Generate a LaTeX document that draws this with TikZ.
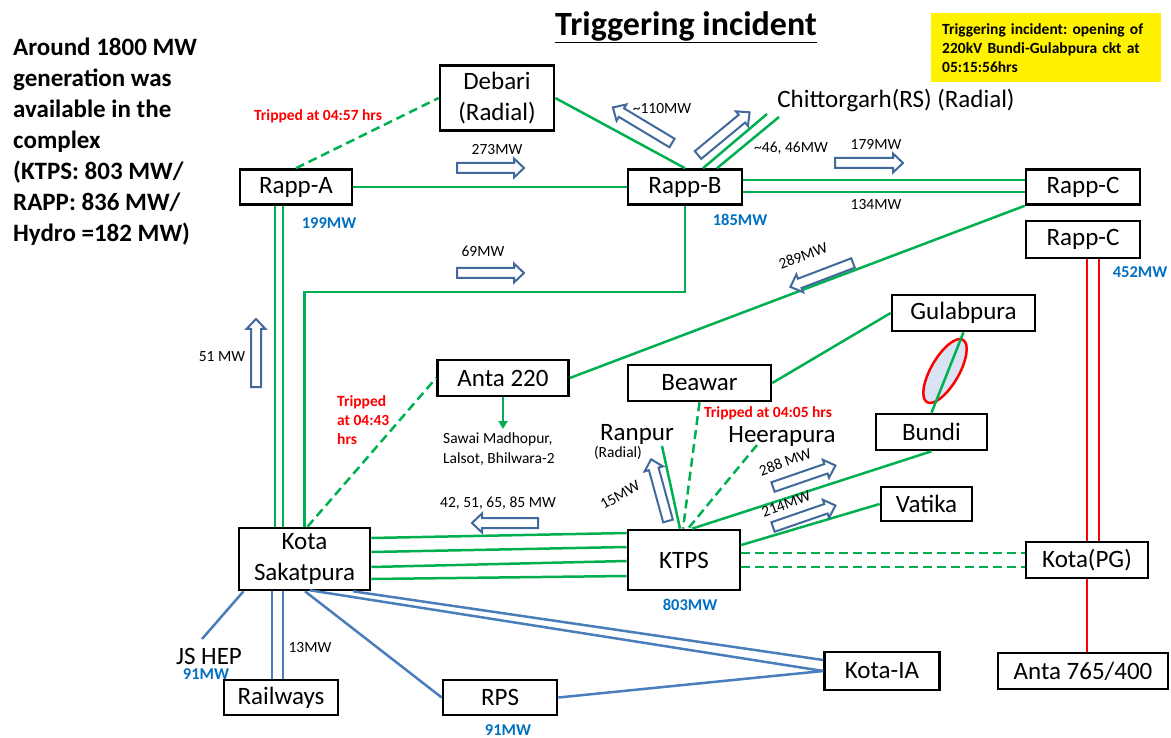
\documentclass[tikz,border=0pt]{standalone}
\usepackage{fontspec}
\setmainfont{Carlito}
\usetikzlibrary{calc,arrows.meta}
\definecolor{gl}{RGB}{0,176,80}
\definecolor{bl}{RGB}{74,126,187}
\definecolor{arrb}{RGB}{65,105,156}
\definecolor{lb}{RGB}{0,112,192}
\definecolor{ellfill}{RGB}{218,227,243}
\tikzset{
 box/.style={draw=black, line width=2.6pt, fill=white, inner sep=0pt, font=\fontsize{25}{31}\selectfont, align=center},
 gline/.style={draw=gl, line width=2.5pt},
 gdash/.style={draw=gl, line width=2.5pt, dash pattern=on 9pt off 5pt},
 rline/.style={draw=red, line width=2.5pt},
 bline/.style={draw=bl, line width=2.5pt},
 flowarr/.style={draw=arrb, fill=white, line width=2pt, line join=miter},
 lbl/.style={font=\fontsize{15.5}{20}\selectfont, inner sep=0pt},
 redlbl/.style={font=\fontsize{15.5}{19}\selectfont\bfseries, text=red, inner sep=0pt},
 mwlbl/.style={font=\fontsize{16.5}{20}\selectfont\bfseries, text=lb, inner sep=0pt},
 plain/.style={font=\fontsize{25}{30}\selectfont, inner sep=0pt},
}
\newcommand{\flowarrow}[4]{%
 \begin{scope}[shift={(#1,#2)}, rotate=#3]
 \draw[flowarr] (0,-5) -- (#4-10,-5) -- (#4-10,-9.5) -- (#4,0) -- (#4-10,9.5) -- (#4-10,5) -- (0,5) -- cycle;
 \end{scope}}
\begin{document}
\frenchspacing
\begin{tikzpicture}[x=1pt,y=-1pt]
\useasboundingbox (0,0) rectangle (1171,738);

% title and notes
\node[font=\fontsize{34}{40}\selectfont\bfseries, inner sep=0pt] (title) at (686,27) {\underline{Triggering incident}};
\node[anchor=north west, align=left, inner sep=0pt, font=\fontsize{25}{31}\selectfont\bfseries] (avail) at (13,38)
 {Around 1800 MW\\generation was\\available in the\\complex\\(KTPS: 803 MW/\\RAPP: 836 MW/\\Hydro =182 MW)};
\node[fill=yellow, anchor=north west, minimum width=230pt, minimum height=69pt, inner xsep=11pt, inner ysep=0pt,
 text width=208pt, align=left, font=\fontsize{15.5}{19}\selectfont\bfseries] (yb) at (931,13)
 {Triggering incident: opening of\\220kV Bundi-Gulabpura ckt at\\05:15:56hrs};

% boxes
\node[box, minimum width=114pt, minimum height=65pt] (debari) at (497,98) {Debari\\(Radial)};
\node[box, minimum width=112pt, minimum height=35pt] (rappA) at (296,187) {Rapp-A};
\node[box, minimum width=114pt, minimum height=35pt] (rappB) at (685,187) {Rapp-B};
\node[box, minimum width=114pt, minimum height=35pt] (rappC) at (1083,187) {Rapp-C};
\node[box, minimum width=114pt, minimum height=37pt] (rappC2) at (1083,239.5) {Rapp-C};
\node[box, minimum width=131pt, minimum height=36pt] (anta220) at (503,378) {Anta 220};
\node[box, minimum width=143pt, minimum height=36pt] (beawar) at (699.5,383) {Beawar};
\node[box, minimum width=143pt, minimum height=36pt] (gulab) at (963.5,313) {Gulabpura};
\node[box, minimum width=111pt, minimum height=36pt] (bundi) at (931.5,432) {Bundi};
\node[box, minimum width=91pt, minimum height=34pt] (vatika) at (926.5,504) {Vatika};
\node[box, minimum width=112pt, minimum height=60pt] (ktps) at (684,560) {KTPS};
\node[box, minimum width=122pt, minimum height=36pt] (kotaPG) at (1087,560) {Kota(PG)};
\node[box, minimum width=131pt, minimum height=62pt] (kotaS) at (304.5,559) {Kota\\Sakatpura};
\node[box, minimum width=114pt, minimum height=35pt] (railways) at (281,697.5) {Railways};
\node[box, minimum width=114pt, minimum height=35pt] (rps) at (500,697.5) {RPS};
\node[box, minimum width=115pt, minimum height=38pt] (kotaIA) at (882,671) {Kota-IA};
\node[box, minimum width=170pt, minimum height=36pt] (anta765) at (1083,671) {Anta 765/400};

% plain texts
\node[plain] (chitt) at (896,101) {Chittorgarh(RS) (Radial)};
\node[plain] (ranpur) at (637,434) {Ranpur};
\node[lbl] (ranpurrad) at (618,453) {(Radial)};
\node[plain] (heera) at (782,436) {Heerapura};
\node[plain] (jshep) at (209,656) {JS HEP};
\node[lbl, align=left, anchor=north west] (sawai) at (443,433) {Sawai Madhopur,\\Lalsot, Bhilwara-2};

% free ends and helper points
\coordinate (chittA) at (767,114);
\coordinate (chittB) at (779,117);
\coordinate (ranpurEnd) at (662,446);
\coordinate (heeraEnd) at (757,445);
\coordinate (jsEnd) at (202,639);
\coordinate (bend) at (0,292);
\coordinate (ra1) at ($(rappA.south)+(-21,0)$);
\coordinate (ra2) at ($(rappA.south)+(-13,0)$);
\coordinate (rw1) at ($(kotaS.south)+(-32.5,0)$);
\coordinate (rw2) at ($(kotaS.south)+(-21.5,0)$);
\coordinate (rc1) at ($(rappC2.south)+(4,0)$);
\coordinate (rc2) at ($(rappC2.south)+(16,0)$);
\coordinate (sawaiTip) at ($(anta220.south |- sawai.north)+(0,-4)$);

% green connectors
\draw[gline] (rappA.east) -- (rappB.west);
\draw[gline] (ra1) -- (ra1 |- kotaS.north);
\draw[gline] (ra2) -- (ra2 |- kotaS.north);
\draw[gline] (kotaS.north) -- (kotaS.north |- bend) -- (rappB.south |- bend) -- (rappB.south);
\draw[gline] (debari.east) -- (rappB.north);
\draw[gdash] (rappA.north) -- (debari.west);
\draw[gline] ($(rappB.north)+(18,0)$) -- (chittA);
\draw[gline] ($(rappB.north)+(32,0)$) -- (chittB);
\draw[gline] ($(rappB.east)+(0,-7)$) -- ($(rappC.west)+(0,-7)$);
\draw[gline] ($(rappB.east)+(0,5)$) -- ($(rappC.west)+(0,5)$);
\draw[gline] (rappC.south west) -- (anta220.east);
\draw[gline, -{Triangle[width=9pt,length=8pt]}] (anta220.south) -- (sawaiTip);
\draw[gdash] ($(kotaS.north)+(3,0)$) -- (anta220.west);
\draw[gline] ($(kotaS.east)+(0,-21)$) -- ($(ktps.west)+(0,-27)$);
\draw[gline] ($(kotaS.east)+(0,-7)$) -- ($(ktps.west)+(0,-13)$);
\draw[gline] ($(kotaS.east)+(0,8)$) -- ($(ktps.west)+(0,1)$);
\draw[gline] ($(kotaS.east)+(0,20)$) -- ($(ktps.west)+(0,16)$);
\draw[gline] (beawar.east) -- (gulab.west);
\draw[red, line width=2.5pt, fill=ellfill, rotate around={60:(945,371)}] (945,371) ellipse [x radius=36pt, y radius=14pt];
\draw[gline] (gulab.south) -- (bundi.north);
\draw[gline] (bundi.south) -- ($(ktps.north)+(8,0)$);
\draw[gline] (ranpurEnd) -- ($(ktps.north)+(-4,0)$);
\draw[gdash] (beawar.south) -- ($(ktps.north)+(-1,0)$);
\draw[gdash] (heeraEnd) -- ($(ktps.north)+(4,0)$);
\draw[gline] (vatika.west) -- ($(ktps.east)+(0,-15)$);
\draw[gdash] ($(ktps.east)+(0,-7)$) -- ($(kotaPG.west)+(0,-7)$);
\draw[gdash] ($(ktps.east)+(0,7)$) -- ($(kotaPG.west)+(0,7)$);

% red connectors
\draw[rline] (rc1) -- (rc1 |- kotaPG.north);
\draw[rline] (rc2) -- (rc2 |- kotaPG.north);
\draw[rline] (kotaPG.south) -- (kotaPG.south |- anta765.north);

% blue connectors
\draw[bline] ($(kotaS.south)+(-61,0)$) -- (jsEnd);
\draw[bline] (rw1) -- (rw1 |- railways.north);
\draw[bline] (rw2) -- (rw2 |- railways.north);
\draw[bline] ($(kotaS.south)+(0.5,0)$) -- (rps.west);
\draw[bline] ($(kotaS.south)+(5.5,-1)$) -- (kotaIA.west);
\draw[bline] ($(kotaS.south)+(48.5,0)$) -- ($(kotaIA.west)+(0,-11)$);
\draw[bline] (rps.east) -- (kotaIA.west);

% flow arrows
\flowarrow{457}{168}{0}{67}
\flowarrow{457}{273}{0}{67}
\flowarrow{256}{387}{90}{68}
\flowarrow{672}{143}{149}{69}
\flowarrow{698}{155}{39.6}{67}
\flowarrow{835}{163}{0}{68}
\flowarrow{853}{263}{200.9}{67}
\flowarrow{538}{523}{180}{66}
\flowarrow{668}{521}{105.3}{64}
\flowarrow{773}{487}{19}{66}
\flowarrow{773}{527}{19}{66}

% labels
\node[redlbl] (t457) at (318,116) {Tripped at 04:57 hrs};
\node[redlbl, align=left, anchor=north west] (t443) at (337,395) {Tripped\\at 04:43\\hrs};
\node[redlbl] (t405) at (768,413) {Tripped at 04:05 hrs};
\node[lbl] (l273) at (497,150) {273MW};
\node[lbl] (l69) at (483,251) {69MW};
\node[lbl] (l51) at (222,357) {51 MW};
\node[lbl] (l110) at (662,109) {\textasciitilde110MW};
\node[lbl] (l46) at (791,148) {\textasciitilde46, 46MW};
\node[lbl] (l179) at (876,144) {179MW};
\node[lbl] (l134) at (876,205) {134MW};
\node[lbl, rotate=20] (l289) at (803,256) {289MW};
\node[lbl] (l42) at (498,503) {42, 51, 65, 85 MW};
\node[lbl, rotate=30] (l15) at (620,495) {15MW};
\node[lbl, rotate=20] (l288) at (785,462) {288 MW};
\node[lbl, rotate=20] (l214) at (786,504) {214MW};
\node[lbl] (l13) at (310,648) {13MW};
\node[mwlbl] (m199) at (329,223) {199MW};
\node[mwlbl] (m185) at (740,220) {185MW};
\node[mwlbl] (m452) at (1140,272) {452MW};
\node[mwlbl] (m803) at (690,605) {803MW};
\node[mwlbl] (m91a) at (206,674) {91MW};
\node[mwlbl] (m91b) at (508,730) {91MW};
\end{tikzpicture}
\end{document}
